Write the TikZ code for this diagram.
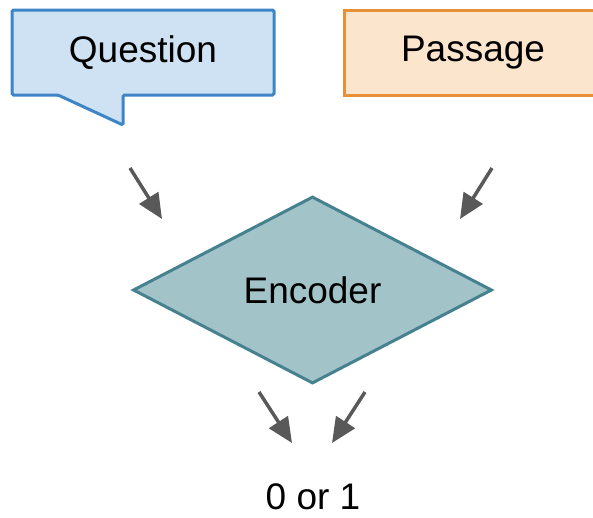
\documentclass[tikz,border=0pt]{standalone}
\usepackage{fontspec}
\setmainfont{Liberation Sans}
\usetikzlibrary{shapes.geometric, arrows.meta}

\definecolor{qfill}{HTML}{CFE2F3}
\definecolor{qline}{HTML}{3D85C6}
\definecolor{pfill}{HTML}{FCE5CD}
\definecolor{pline}{HTML}{E69138}
\definecolor{efill}{HTML}{A2C4C9}
\definecolor{eline}{HTML}{45818E}
\definecolor{arrowgray}{HTML}{595959}

\begin{document}
\begin{tikzpicture}[x=1pt, y=-1pt, line width=3pt, font=\fontsize{37}{44}\selectfont,
    feed/.style={draw=arrowgray, line width=3.5pt, -{Triangle[length=25pt, width=22pt]}}]
    \useasboundingbox (0,0) rectangle (593,517);

    % question callout
    \draw[qline, fill=qfill, rounded corners=1.5pt] (12,10) -- (274,10) -- (274,95) -- (123,95) -- (123,125) -- (58,95) -- (12,95) -- cycle;
    \node at (143, 52.5)   (Q) {Question};

    \node[draw=pline, fill=pfill, minimum width=258pt, minimum height=85pt, inner sep=0pt] at (473, 52.5)   (P) {Passage};

    \node[draw=eline, fill=efill, diamond, minimum width=359pt, minimum height=187pt, inner sep=0pt] at (312.5, 290)   (E) {Encoder};

    \node at (313, 497)   (O) {0 or 1};

    \coordinate (q1) at (130,168);  \coordinate (q2) at (162,219);
    \coordinate (p1) at (492,168);  \coordinate (p2) at (460,219);
    \coordinate (e1) at (259,392);  \coordinate (e2) at (292,443);
    \coordinate (e3) at (365,392);  \coordinate (e4) at (332,443);

    \draw[feed] (q1) -- (q2);
    \draw[feed] (p1) -- (p2);
    \draw[feed] (e1) -- (e2);
    \draw[feed] (e3) -- (e4);

\end{tikzpicture}
\end{document}
